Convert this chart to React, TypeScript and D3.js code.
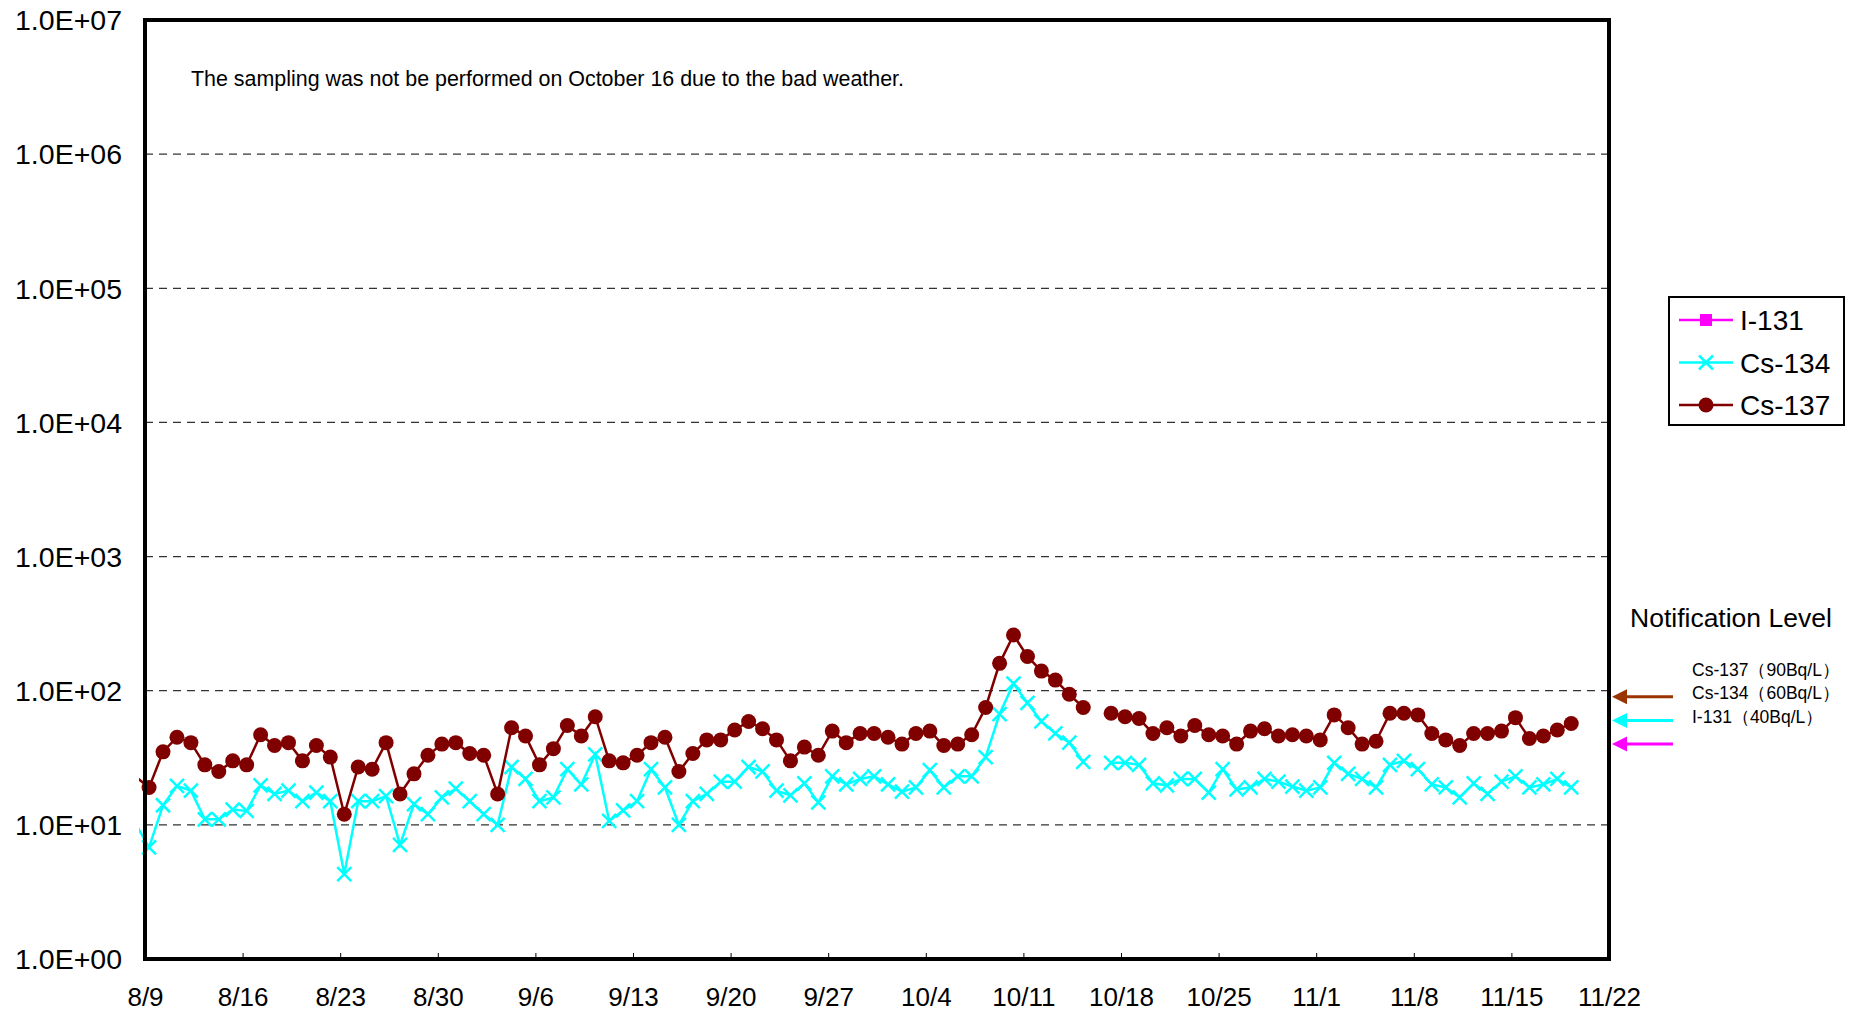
import React, { useEffect, useRef } from 'react'
import * as d3 from 'd3'

// sampling dates (2011), one sample a day; 10/16 was skipped (bad weather)
const YEAR = 2011
const SAMPLE_HOUR = 7
const sampleDates = [
  '8/8', '8/9', '8/10', '8/11', '8/12', '8/13', '8/14', '8/15', '8/16', '8/17', '8/18', '8/19',
  '8/20', '8/21', '8/22', '8/23', '8/24', '8/25', '8/26', '8/27', '8/28', '8/29', '8/30', '8/31',
  '9/1', '9/2', '9/3', '9/4', '9/5', '9/6', '9/7', '9/8', '9/9', '9/10', '9/11', '9/12', '9/13', '9/14', '9/15',
  '9/16', '9/17', '9/18', '9/19', '9/20', '9/21', '9/22', '9/23', '9/24', '9/25', '9/26', '9/27', '9/28', '9/29', '9/30',
  '10/1', '10/2', '10/3', '10/4', '10/5', '10/6', '10/7', '10/8', '10/9', '10/10', '10/11', '10/12', '10/13', '10/14', '10/15',
  '10/16', '10/17', '10/18', '10/19', '10/20', '10/21', '10/22', '10/23', '10/24', '10/25', '10/26', '10/27', '10/28', '10/29',
  '10/30', '10/31',
  '11/1', '11/2', '11/3', '11/4', '11/5', '11/6', '11/7', '11/8', '11/9', '11/10', '11/11', '11/12', '11/13', '11/14',
  '11/15', '11/16', '11/17', '11/18', '11/19',
]

// Bq/L
const cs134 = [
  10.3, 6.8, 14, 19.5, 18, 11, 11, 13, 12.7, 19.7, 17, 18, 15, 17.4, 15, 4.3, 15, 15, 16.4, 7.1, 14.3, 12, 16, 18.6,
  15, 12, 10, 27, 22, 15, 16, 26, 20, 33.5, 10.7, 12.8, 15, 26, 19, 10, 15, 17, 21, 21, 27, 25, 18, 16.6, 20.4, 14.7, 23, 20, 22, 23,
  20, 17.7, 19, 25.6, 19, 23, 23, 32, 67, 113, 81, 59, 48, 41, 29.5, null, 29, 29, 28, 20.4, 19.7, 22, 22, 17.4, 26, 18.4, 19, 22, 21, 19.3, 18,
  19, 29, 24, 22, 19, 28, 30, 26, 20, 19, 16, 20.4, 17, 21, 23, 19, 20, 22, 19,
]
const cs137 = [
  23, 19, 35, 45, 41, 28, 25, 30, 28, 47, 39, 41, 30, 39, 32, 12, 27, 26, 41, 17, 24, 33, 40, 41,
  34, 33, 17, 53, 46, 28, 37, 55, 46, 64, 30, 29, 33, 41, 45, 25, 34, 43, 43, 51, 59, 52, 43, 30, 38, 33, 50, 41, 48, 48,
  45, 40, 48, 50, 39, 40, 47, 75, 160, 260, 180, 140, 120, 94, 75, null, 68, 64, 62, 48, 53, 46, 55, 47, 46, 40, 50, 52, 46, 47, 46,
  43, 66, 53, 40, 42, 68, 68, 66, 48, 43, 39, 48, 48, 50, 63, 44, 46, 51, 57,
]

const xTickLabels = ['8/9', '8/16', '8/23', '8/30', '9/6', '9/13', '9/20', '9/27', '10/4', '10/11', '10/18', '10/25', '11/1', '11/8', '11/15', '11/22']
const yTickValues = [1, 10, 100, 1000, 10000, 100000, 1000000, 10000000]
const yTickLabels = ['1.0E+00', '1.0E+01', '1.0E+02', '1.0E+03', '1.0E+04', '1.0E+05', '1.0E+06', '1.0E+07']

const legendNames = ['I-131', 'Cs-134', 'Cs-137']
const levelNames = ['Cs-137（90Bq/L）', 'Cs-134（60Bq/L）', 'I-131（40Bq/L）']
const levelValues = [90, 60, 40]
const levelColors = ['#993300', '#00ffff', '#ff00ff']

const note = 'The sampling was not be performed on October 16 due to the bad weather.'
const FONT = '"Liberation Sans", Arial, sans-serif'

const W = 1851
const H = 1014
const plot = { left: 145, right: 1609, top: 20, bottom: 959 }

export default function App() {
  const ref = useRef(null)

  useEffect(() => {
    const svg = d3.select(ref.current)
    svg.selectAll('*').remove()

    const parse = d3.timeParse('%Y/%m/%d %H')
    const dates = sampleDates.map(s => parse(`${YEAR}/${s} ${SAMPLE_HOUR}`))
    const tickDates = xTickLabels.map(s => parse(`${YEAR}/${s} 0`))
    const start = tickDates[0]

    const x = d3.scaleTime()
      .domain([tickDates[0], tickDates[tickDates.length - 1]])
      .range([plot.left, plot.right])
    const y = d3.scaleLog()
      .domain([1, 1e7])
      .range([plot.bottom, plot.top])

    svg.append('rect').attr('width', W).attr('height', H).attr('fill', '#fff')

    // dashed grid
    svg.append('g')
      .selectAll('line')
      .data(yTickValues.slice(1, -1))
      .join('line')
      .attr('x1', plot.left).attr('x2', plot.right)
      .attr('y1', d => y(d)).attr('y2', d => y(d))
      .attr('stroke', '#333')
      .attr('stroke-width', 1.2)
      .attr('stroke-dasharray', '8,6')

    // y labels
    svg.append('g')
      .selectAll('text')
      .data(yTickValues)
      .join('text')
      .attr('x', 122)
      .attr('y', d => y(d))
      .attr('dy', '0.36em')
      .attr('text-anchor', 'end')
      .attr('font-family', FONT)
      .attr('font-size', 28.5)
      .text((d, i) => yTickLabels[i])

    // x axis
    const X_AXIS = d3.axisBottom(x)
      .tickValues(tickDates)
      .tickFormat((d, i) => xTickLabels[i])
      .tickSizeInner(-6)
      .tickSizeOuter(0)
      .tickPadding(29)
    const gx = svg.append('g')
      .attr('transform', `translate(0,${plot.bottom})`)
      .call(X_AXIS)
    gx.select('.domain').remove()
    gx.selectAll('line').attr('stroke', '#000')
    gx.selectAll('text').attr('font-family', FONT).attr('font-size', 26).attr('fill', '#000')

    // series
    svg.append('clipPath').attr('id', 'plotclip')
      .append('rect')
      .attr('x', 139).attr('y', plot.top)
      .attr('width', plot.right - 139).attr('height', plot.bottom - plot.top)

    const pts = (vals) => dates.map((d, i) => ({ date: d, value: vals[i] }))
    const line = d3.line()
      .defined(d => d.value != null)
      .x(d => x(d.date))
      .y(d => y(d.value))

    const s134 = pts(cs134)
    const s137 = pts(cs137)

    const g = svg.append('g').attr('clip-path', 'url(#plotclip)')
    g.append('path').datum(s134)
      .attr('d', line).attr('fill', 'none')
      .attr('stroke', '#00ffff').attr('stroke-width', 2.5)
    const k = 7
    g.selectAll('.m134')
      .data(s134.filter(d => d.value != null && d.date >= start))
      .join('path')
      .attr('class', 'm134')
      .attr('d', d => {
        const cx = x(d.date), cy = y(d.value)
        return `M${cx - k},${cy - k}L${cx + k},${cy + k}M${cx - k},${cy + k}L${cx + k},${cy - k}`
      })
      .attr('stroke', '#00ffff').attr('stroke-width', 2.5)

    g.append('path').datum(s137)
      .attr('d', line).attr('fill', 'none')
      .attr('stroke', '#800000').attr('stroke-width', 2.5)
    g.selectAll('.m137')
      .data(s137.filter(d => d.value != null && d.date >= start))
      .join('circle')
      .attr('class', 'm137')
      .attr('cx', d => x(d.date)).attr('cy', d => y(d.value))
      .attr('r', 7.5)
      .attr('fill', '#800000')

    // frame
    svg.append('rect')
      .attr('x', plot.left).attr('y', plot.top)
      .attr('width', plot.right - plot.left).attr('height', plot.bottom - plot.top)
      .attr('fill', 'none').attr('stroke', '#000').attr('stroke-width', 4)

    svg.append('text')
      .attr('x', 191).attr('y', 86)
      .attr('font-family', FONT).attr('font-size', 22)
      .attr('textLength', 713).attr('lengthAdjust', 'spacingAndGlyphs')
      .text(note)

    // legend
    const lg = svg.append('g')
    lg.append('rect')
      .attr('x', 1669).attr('y', 297).attr('width', 175).attr('height', 128)
      .attr('fill', '#fff').attr('stroke', '#000').attr('stroke-width', 2)
    const legendColors = ['#ff00ff', '#00ffff', '#800000']
    legendNames.forEach((name, i) => {
      const ly = 320 + i * 42.5
      lg.append('line')
        .attr('x1', 1679).attr('x2', 1733).attr('y1', ly).attr('y2', ly)
        .attr('stroke', legendColors[i]).attr('stroke-width', 2.5)
      if (i === 0) {
        lg.append('rect').attr('x', 1700).attr('y', ly - 6).attr('width', 12).attr('height', 12).attr('fill', legendColors[i])
      } else if (i === 1) {
        lg.append('path')
          .attr('d', `M${1706 - k},${ly - k}L${1706 + k},${ly + k}M${1706 - k},${ly + k}L${1706 + k},${ly - k}`)
          .attr('stroke', legendColors[i]).attr('stroke-width', 2.5)
      } else {
        lg.append('circle').attr('cx', 1706).attr('cy', ly).attr('r', 7.5).attr('fill', legendColors[i])
      }
      lg.append('text')
        .attr('x', 1740).attr('y', ly).attr('dy', '0.36em')
        .attr('font-family', FONT).attr('font-size', 28)
        .text(name)
    })

    // notification levels
    svg.append('text')
      .attr('x', 1630).attr('y', 627)
      .attr('font-family', FONT).attr('font-size', 26.5)
      .text('Notification Level')
    levelValues.forEach((v, i) => {
      const ay = y(v)
      svg.append('line')
        .attr('x1', 1624).attr('x2', 1673).attr('y1', ay).attr('y2', ay)
        .attr('stroke', levelColors[i]).attr('stroke-width', 3)
      svg.append('path')
        .attr('d', `M1612,${ay}L1627,${ay - 7.5}L1627,${ay + 7.5}Z`)
        .attr('fill', levelColors[i])
      svg.append('text')
        .attr('x', 1692).attr('y', ay - 21)
        .attr('font-family', FONT).attr('font-size', 17.5)
        .text(levelNames[i])
    })
  }, [])

  return (
    <svg
      ref={ref}
      width={W}
      height={H}
      style={{ position: 'absolute', left: 0, top: 0, display: 'block' }}
    />
  )
}
